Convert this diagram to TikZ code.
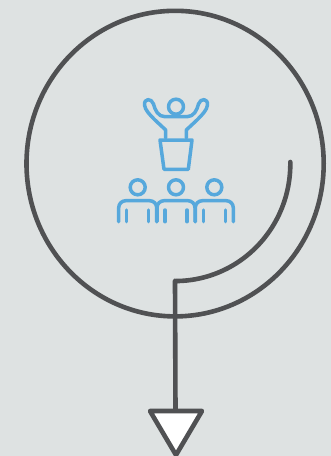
\documentclass[tikz,border=0pt]{standalone}
\usepackage{xcolor}
\usetikzlibrary{calc}
\definecolor{bggray}{RGB}{222,226,226}
\definecolor{darkgray}{RGB}{80,81,83}
\definecolor{iconblue}{RGB}{86,168,220}

\begin{document}
\begin{tikzpicture}[
  x=1pt, y=-1pt,
  ring/.style={draw=darkgray, line width=4.6pt},
  stem/.style={draw=darkgray, line width=4.6pt, line join=round},
  tip/.style={draw=darkgray, fill=white, line width=4.6pt, line join=round},
  icon/.style={draw=iconblue, line width=3.5pt, line join=round, line cap=round},
]

% Background
\fill[bggray] (0,0) rectangle (331,456);
\useasboundingbox (0,0) rectangle (331,456);

% Rings
\coordinate (center) at (175.1,163.6);
\coordinate (corner) at (175,280.7);
\coordinate (tiptop) at (175.5,411);
\draw[ring] (center) ellipse[x radius=148.6, y radius=152.8];
\draw[stem, line cap=round] (290.3,162) arc[start angle=1, end angle=-90, x radius=115, y radius=-117] -- (corner) -- (tiptop);

% Arrow head
\draw[tip] (150,411) -- (202,411) -- (176,455) -- cycle;

% Speaker
\draw[icon] (176,106.7) circle[radius=7.5];
\draw[icon] (165.7,138) -- (165.7,130) -- (155,120)
  .. controls (150,115) and (145,110) .. (144.5,105)
  .. controls (144,98) and (151.5,98) .. (153.5,104)
  .. controls (155,110) and (158,116.7) .. (165,116.7)
  -- (187,116.7)
  .. controls (194,116.7) and (197,110) .. (198.5,104)
  .. controls (200.5,98) and (208,98) .. (207.5,105)
  .. controls (207,110) and (202,115) .. (197,120)
  -- (186.3,130) -- (186.3,138);
\draw[icon] (160,140) -- (192,140) -- (188.3,169.3) -- (164,169.3) -- cycle;

% Audience
\foreach \x in {137.7,176,214.3} {
  \draw[icon] (\x,187.3) circle[radius=7.5];
  \draw[icon, rounded corners=7pt] ($(\x,221.7)+(-19,0)$) -- ($(\x,200.7)+(-19,0)$) -- ($(\x,200.7)+(19,0)$) -- ($(\x,221.7)+(19,0)$);
  \draw[icon] ($(\x,210)+(-11,0)$) -- ($(\x,221.7)+(-11,0)$);
  \draw[icon] ($(\x,210)+(11,0)$) -- ($(\x,221.7)+(11,0)$);
}

\end{tikzpicture}
\end{document}
